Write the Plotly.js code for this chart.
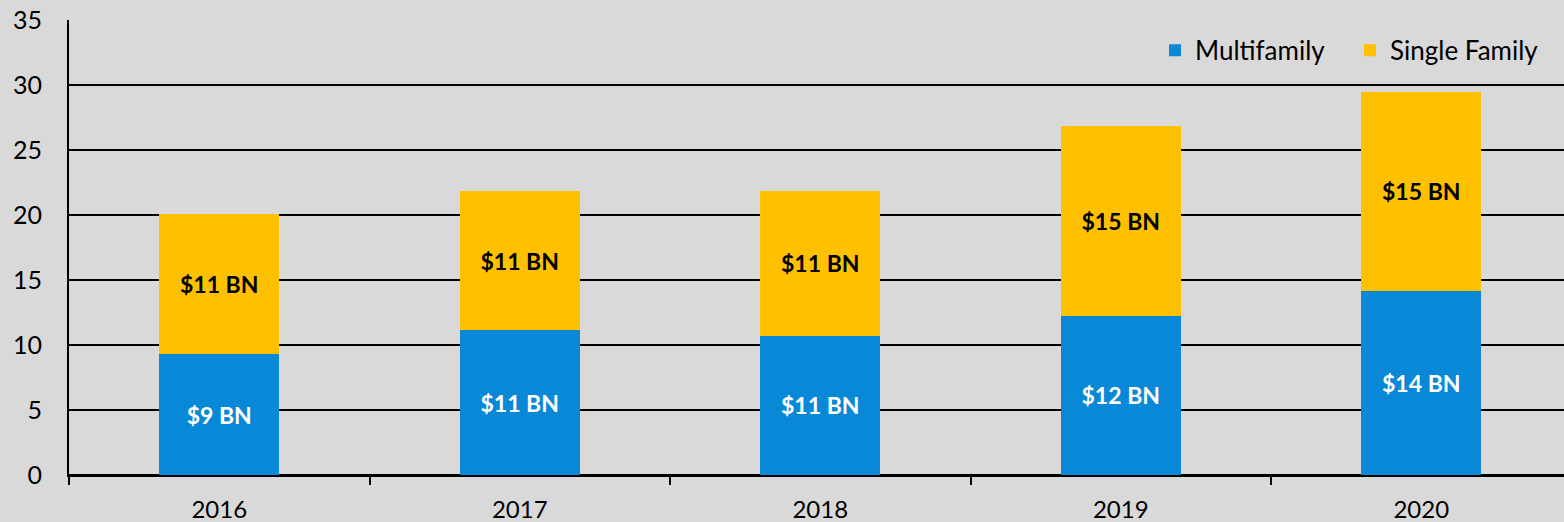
<!DOCTYPE html>
<html>
<head>
<meta charset="utf-8">
<script src="https://cdn.plot.ly/plotly-3.0.1.min.js"></script>
<style>html,body{margin:0;padding:0;background:#d9d9d9;}#chart{width:1564px;height:522px;}</style>
</head>
<body>
<div id="chart"></div>
<script>
const years = ["2016", "2017", "2018", "2019", "2020"];
const multifamily = [9.28, 11.15, 10.72, 12.25, 14.15];
const singleFamily = [10.8, 10.7, 11.13, 14.6, 15.33];
const multifamilyLabels = ["$9 BN", "$11 BN", "$11 BN", "$12 BN", "$14 BN"];
const singleFamilyLabels = ["$11 BN", "$11 BN", "$11 BN", "$15 BN", "$15 BN"];
const yTicks = [0, 5, 10, 15, 20, 25, 30, 35];

const FONT = "Lato, 'Open Sans', sans-serif";

const traces = [
  {
    type: "bar", name: "Multifamily", x: years, y: multifamily,
    text: multifamilyLabels, textposition: "inside", insidetextanchor: "middle",
    textfont: {family: FONT, size: 23, color: "#ffffff", weight: "bold"},
    marker: {color: "#0a88d8"}, width: 0.4, hoverinfo: "none"
  },
  {
    type: "bar", name: "Single Family", x: years, y: singleFamily,
    text: singleFamilyLabels, textposition: "inside", insidetextanchor: "middle",
    textfont: {family: FONT, size: 23, color: "#000000", weight: "bold"},
    marker: {color: "#ffc000"}, width: 0.4, hoverinfo: "none"
  }
];

const layout = {
  width: 1564, height: 522,
  barmode: "stack",
  paper_bgcolor: "#d9d9d9", plot_bgcolor: "#d9d9d9",
  font: {family: FONT, size: 24, color: "#000"},
  margin: {l: 69, r: 0, t: 20, b: 47},
  showlegend: true,
  legend: {
    orientation: "h", x: 0.9873, xanchor: "right", y: 0.985, yanchor: "top",
    bgcolor: "rgba(0,0,0,0)", traceorder: "normal", entrywidth: 150,
    font: {family: FONT, size: 26, color: "#000"}, itemwidth: 30
  },
  xaxis: {
    type: "category", range: [-0.5, 4.475],
    tickson: "boundaries", ticks: "outside", ticklen: 8, tickwidth: 2, tickcolor: "#000",
    showgrid: false, showline: true, linecolor: "#000", linewidth: 2,
    ticklabelstandoff: 12,
    tickfont: {family: FONT, size: 24, color: "#000"}, fixedrange: true
  },
  yaxis: {
    range: [0, 35], tickvals: yTicks, ticktext: yTicks.map(String),
    showgrid: true, gridcolor: "#000", gridwidth: 2,
    zeroline: true, zerolinecolor: "#000", zerolinewidth: 2,
    showline: true, linecolor: "#000", linewidth: 2, ticks: "",
    ticklabelstandoff: 20,
    tickfont: {family: FONT, size: 25, color: "#000"}, fixedrange: true
  }
};

Plotly.newPlot("chart", traces, layout, {displayModeBar: false, staticPlot: true});
</script>
</body>
</html>
